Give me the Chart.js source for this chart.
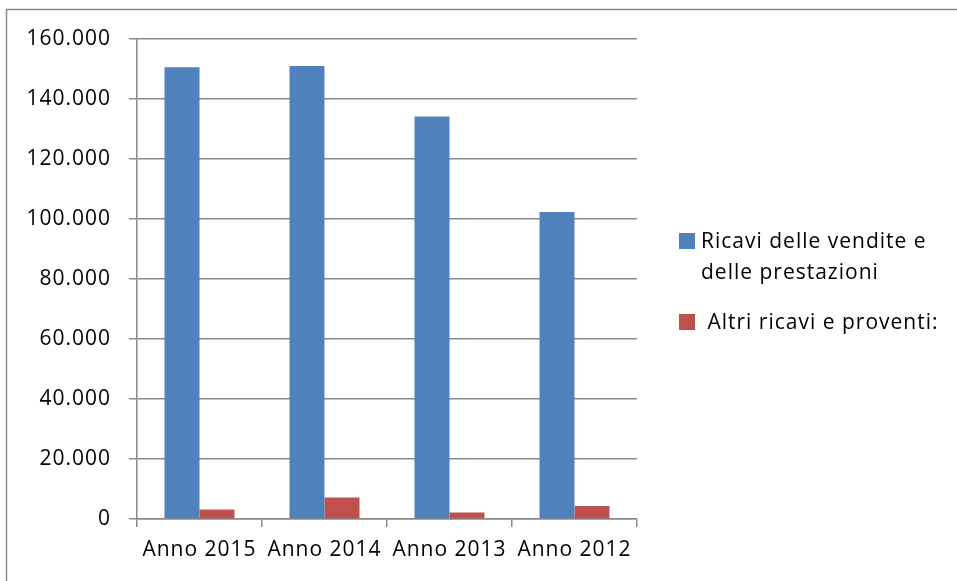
<!DOCTYPE html>
<html>
<head>
<meta charset="utf-8">
<script src="https://cdn.jsdelivr.net/npm/chart.js@4"></script>
<style>
  html, body { margin: 0; padding: 0; background: #fff; }
  #wrap { position: relative; width: 957px; height: 581px; }
</style>
</head>
<body>
<div id="wrap"><canvas id="ricavi"></canvas></div>
<script>
// categorie e serie
const anni = ["Anno 2015", "Anno 2014", "Anno 2013", "Anno 2012"];
const ricaviVendite = [150600, 151000, 134200, 102300];
const altriRicavi = [3200, 7200, 2200, 4300];
const nomiSerie = ["Ricavi delle vendite e delle prestazioni", "Altri ricavi e proventi:"];
const righeLegenda = [["Ricavi delle vendite e", "delle prestazioni"], [" Altri ricavi e proventi:"]];
const colori = ["#4f81bd", "#c0504d"];

const FONT = "'Open Sans', sans-serif";
const GRIGIO = "#8a8a8a";

// 160000 -> "160.000"
const formatoIt = v => String(v).replace(/\B(?=(\d{3})+(?!\d))/g, ".");

// cornice del grafico + legenda a destra
const cornice = {
  id: "cornice",
  beforeDraw(chart) {
    const ctx = chart.ctx;
    ctx.save();
    ctx.strokeStyle = GRIGIO;
    ctx.lineWidth = 1.5;
    ctx.beginPath();
    ctx.moveTo(6.5, chart.height);
    ctx.lineTo(6.5, 9.5);
    ctx.lineTo(chart.width, 9.5);
    ctx.stroke();
    ctx.restore();
    // testo un po' più spaziato per tutte le etichette
    ctx.letterSpacing = "1px";
  },
  afterDraw(chart) {
    const ctx = chart.ctx;
    ctx.save();
    ctx.font = "21px " + FONT;
    ctx.letterSpacing = "1px";
    ctx.textBaseline = "middle";
    const x = 679, sq = 16;
    const voci = [{ y: 241, righe: righeLegenda[0] }, { y: 322, righe: righeLegenda[1] }];
    voci.forEach((v, i) => {
      ctx.fillStyle = colori[i];
      ctx.fillRect(x, v.y - sq / 2, sq, sq);
      ctx.fillStyle = "#000";
      v.righe.forEach((t, j) => ctx.fillText(t, x + 22, v.y + 1 + j * 31));
    });
    ctx.restore();
  }
};

new Chart(document.getElementById("ricavi"), {
  type: "bar",
  data: {
    labels: anni,
    datasets: [
      { label: nomiSerie[0], data: ricaviVendite, backgroundColor: colori[0] },
      { label: nomiSerie[1], data: altriRicavi, backgroundColor: colori[1] }
    ]
  },
  options: {
    responsive: true,
    maintainAspectRatio: false,
    animation: false,
    categoryPercentage: 0.56,
    barPercentage: 1,
    layout: { padding: { top: 39, right: 320, left: 0, bottom: 0 } },
    plugins: {
      legend: { display: false },
      tooltip: { enabled: false }
    },
    scales: {
      x: {
        afterFit: s => { s.height = 62; },
        grid: { offset: true, drawOnChartArea: false, color: GRIGIO, lineWidth: 1.5, tickLength: 8 },
        border: { color: GRIGIO, width: 1.5 },
        ticks: { color: "#000", font: { family: FONT, size: 21 }, padding: 10 }
      },
      y: {
        min: 0,
        max: 160000,
        afterFit: s => { s.width = 137; },
        grid: { color: GRIGIO, lineWidth: 1.5, tickLength: 8 },
        border: { color: GRIGIO, width: 1.5 },
        ticks: {
          stepSize: 20000,
          color: "#000",
          font: { family: FONT, size: 21 },
          padding: 18,
          callback: v => formatoIt(v)
        }
      }
    }
  },
  plugins: [cornice]
});
</script>
</body>
</html>
